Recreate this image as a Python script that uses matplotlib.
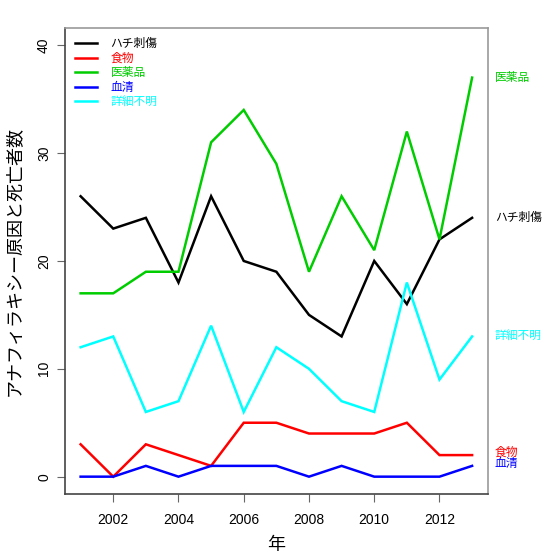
import matplotlib
matplotlib.use("Agg")
import matplotlib.pyplot as plt

years = [2001, 2002, 2003, 2004, 2005, 2006, 2007, 2008, 2009, 2010, 2011, 2012, 2013]
names = ["ハチ刺傷", "食物", "医薬品", "血清", "詳細不明"]
hachi = [26, 23, 24, 18, 26, 20, 19, 15, 13, 20, 16, 22, 24]
food = [3, 0, 3, 2, 1, 5, 5, 4, 4, 4, 5, 2, 2]
drug = [17, 17, 19, 19, 31, 34, 29, 19, 26, 21, 32, 22, 37]
serum = [0, 0, 1, 0, 1, 1, 1, 0, 1, 0, 0, 0, 1]
unknown = [12, 13, 6, 7, 14, 6, 12, 10, 7, 6, 18, 9, 13]
series = [hachi, food, drug, serum, unknown]
colors = ["#000000", "#FF0000", "#00CD00", "#0000FF", "#00FFFF"]
xticks = [2002, 2004, 2006, 2008, 2010, 2012]
yticks = [0, 10, 20, 30, 40]

plt.rcParams['font.family'] = ['Liberation Sans', 'Noto Sans CJK JP', 'DejaVu Sans']

fig = plt.figure(figsize=(5.6, 5.6), dpi=100)
ax = fig.add_axes([0.116, 0.118, 0.755, 0.832])

for name, vals, c in zip(names, series, colors):
    ax.plot(years, vals, color=c, lw=1.8, label=name, solid_joinstyle='miter')

ax.set_xlim(2000.52, 2013.48)
ax.set_ylim(-1.6, 41.6)
ax.set_xticks(xticks)
ax.set_yticks(yticks)
ax.tick_params(direction='out', length=6, width=0.8, color='#666666', labelsize=10)
ax.tick_params(axis='x', pad=8)
ax.tick_params(axis='y', pad=4)
for lab in ax.get_yticklabels():
    lab.set_rotation(90)
    lab.set_va('center')

for side in ['left', 'bottom']:
    ax.spines[side].set_color('#444444')
for side in ['top', 'right']:
    ax.spines[side].set_color('#999999')
for s in ax.spines.values():
    s.set_linewidth(1.2)

ax.set_xlabel("年", fontsize=13, labelpad=7)
ax.set_ylabel("アナフィラキシー原因と死亡者数", fontsize=13, labelpad=10)

leg = ax.legend(loc='upper left', frameon=False, fontsize=8.5, handlelength=1.9,
                handletextpad=1.1, labelspacing=0.22, borderaxespad=0.45,
                bbox_to_anchor=(0.0, 1.0))
for txt, c in zip(leg.get_texts(), colors):
    txt.set_color(c)

offsets = [0, 0.2, 0, 0.2, 0]
for name, vals, c, off in zip(names, series, colors, offsets):
    ax.annotate(name, xy=(1.0, vals[-1] + off), xycoords=('axes fraction', 'data'),
                xytext=(5, 0), textcoords='offset points', color=c, fontsize=8.5,
                va='center', ha='left', annotation_clip=False)

fig.savefig("out.png", dpi=100)
